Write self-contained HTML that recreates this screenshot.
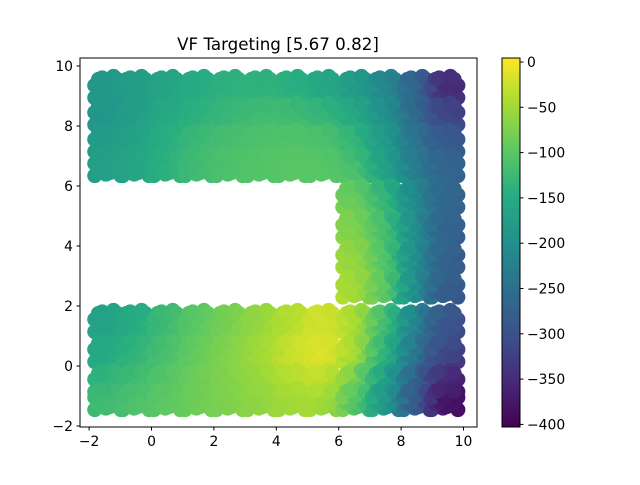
<!DOCTYPE html>
<html><head><meta charset="utf-8"><style>
body{margin:0;background:#fff;}
svg text{font-family:"DejaVu Sans","Liberation Sans",sans-serif;font-size:13.9px;fill:#000;}
</style></head><body>
<svg id="chart" width="640" height="480" viewBox="0 0 640 480" xmlns="http://www.w3.org/2000/svg">
<rect width="640" height="480" fill="#fff"/>
<text x="278" y="50" text-anchor="middle" style="font-size:16.7px">VF Targeting [5.67 0.82]</text>
<g id="points"></g>
<rect x="80" y="58" width="397" height="369" fill="none" stroke="#000" stroke-width="1"/>
<g id="axes"></g>
<defs><linearGradient id="cbg" x1="0" y1="1" x2="0" y2="0"></linearGradient></defs>
<rect x="502" y="58" width="18" height="369" fill="url(#cbg)" stroke="#000" stroke-width="1"/>
<g id="cbticks"></g>
</svg>
<script>
const cellX = [-1.4,-0.5,0.5,1.5,2.5,3.5,4.5,5.5,6.55,7.5,8.5,9.4];
const cellY = [9.3,8.4,7.5,6.7,5.65,4.65,3.65,2.65,1.5,0.5,-0.5,-1.1];
const cellV = [
 [-185,-175,-165,-150,-140,-140,-145,-160,-180,-215,-265,-360],
 [-190,-175,-155,-140,-130,-120,-120,-130,-150,-195,-255,-320],
 [-180,-165,-145,-125,-115,-110,-105,-110,-130,-180,-240,-290],
 [-170,-160,-140,-120,-110,-105,-100,-100,-110,-170,-230,-270],
 [null,null,null,null,null,null,null,null,-85,-130,-210,-270],
 [null,null,null,null,null,null,null,null,-70,-115,-200,-280],
 [null,null,null,null,null,null,null,null,-55,-105,-200,-280],
 [null,null,null,null,null,null,null,null,-45,-95,-200,-290],
 [-170,-150,-125,-100,-80,-60,-40,-20,-40,-120,-220,-300],
 [-155,-135,-115,-90,-70,-50,-25,-10,-40,-140,-240,-320],
 [-140,-125,-105,-85,-70,-55,-35,-25,-70,-170,-270,-360],
 [-120,-105,-95,-85,-75,-65,-55,-55,-110,-190,-290,-395]
];
const xTicks = [-2,0,2,4,6,8,10];
const yTicks = [-2,0,2,4,6,8,10];
const cTicks = [0,-50,-100,-150,-200,-250,-300,-350,-400];
const vMin = -403, vMax = 4.4;

const NS="http://www.w3.org/2000/svg";
const sx = x => 151.5 + x*31.2;
const sy = y => 366 - y*30;
const cy = v => 62 - v*0.906;
const stops=[[0,[68,1,84]],[0.13,[71,44,122]],[0.25,[59,81,139]],[0.38,[44,113,142]],[0.5,[33,144,141]],[0.63,[39,173,129]],[0.75,[92,200,99]],[0.88,[170,220,50]],[1,[253,231,37]]];
function viridis(t){t=Math.max(0,Math.min(1,t));for(let i=1;i<stops.length;i++){if(t<=stops[i][0]){const a=stops[i-1],b=stops[i];const f=(t-a[0])/(b[0]-a[0]);const c=a[1].map((v,k)=>Math.round(v+(b[1][k]-v)*f));return `rgb(${c})`;}}return 'rgb(253,231,37)';}
function valueAt(px,py){
  let sw=0,s=0;
  cellY.forEach((yv,r)=>cellX.forEach((xv,c)=>{
    const v=cellV[r][c]; if(v===null) return;
    const d2=(px-xv)*(px-xv)+(py-yv)*(py-yv);
    if(d2>1.6) return;
    const w=1/(d2+0.05); sw+=w; s+=w*v;
  }));
  return s/sw;
}
const offs=[-0.36,-0.12,0.12,0.36];
const g=document.getElementById('points');
cellY.forEach((yv,r)=>cellX.forEach((xv,c)=>{
  const v=cellV[r][c]; if(v===null) return;
  offs.forEach((oy,i)=>offs.forEach((ox,j)=>{
    const px=xv+ox+((i+j)%2?0.06:-0.06), py=yv+oy*0.85+((i*3+j)%3-1)*0.05;
    const e=document.createElementNS(NS,'circle');
    e.setAttribute('cx',sx(px));e.setAttribute('cy',sy(py));e.setAttribute('r',7.5);
    e.setAttribute('fill',viridis((valueAt(px,py)-vMin)/(vMax-vMin)));
    
    
    g.appendChild(e);
  }));
}));
const ax=document.getElementById('axes');
function add(tag,attrs,txt){const e=document.createElementNS(NS,tag);for(const k in attrs)e.setAttribute(k,attrs[k]);if(txt!==undefined)e.textContent=txt;return e;}
xTicks.forEach(t=>{
  ax.appendChild(add('line',{x1:sx(t),x2:sx(t),y1:427,y2:430.5,stroke:'#000'}));
  const e=add('text',{x:sx(t),y:446,'text-anchor':'middle'},t<0?'\u2212'+(-t):t);
  
  
  ax.appendChild(e);
});
yTicks.forEach(t=>{
  ax.appendChild(add('line',{x1:76.5,x2:80,y1:sy(t),y2:sy(t),stroke:'#000'}));
  const e=add('text',{x:73,y:sy(t)+5,'text-anchor':'end'},t<0?'\u2212'+(-t):t);
  
  
  ax.appendChild(e);
});
const grad=document.getElementById('cbg');
for(let i=0;i<=8;i++){grad.appendChild(add('stop',{offset:stops[i][0],'stop-color':viridis(stops[i][0])}));}
const cb=document.getElementById('cbticks');
cTicks.forEach(t=>{
  cb.appendChild(add('line',{x1:520,x2:523.5,y1:cy(t),y2:cy(t),stroke:'#000'}));
  const e=add('text',{x:527,y:cy(t)+5},t<0?'\u2212'+(-t):t);
  
  
  cb.appendChild(e);
});
</script>
</body></html>
